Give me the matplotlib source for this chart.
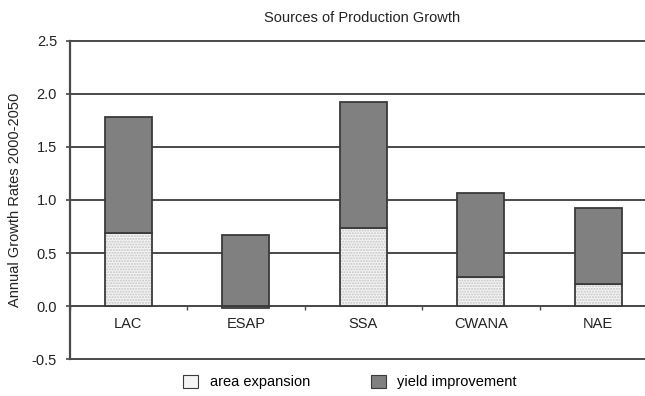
import matplotlib
matplotlib.use("Agg")
import matplotlib.pyplot as plt
from matplotlib.patches import Patch
import numpy as np

# ========== Data ==========
regions = ["LAC", "ESAP", "SSA", "CWANA", "NAE"]
area_expansion = [0.69, -0.02, 0.74, 0.27, 0.21]
yield_improvement = [1.09, 0.67, 1.18, 0.80, 0.71]
y_ticks = [-0.5, 0.0, 0.5, 1.0, 1.5, 2.0, 2.5]

plt.rcParams["font.family"] = ["Liberation Sans", "DejaVu Sans"]

dark = "#808080"
edge = "#3a3a3a"
grid = "#4a4a4a"
text_col = "#222222"
light_fill = "#f4f4f4"
stipple = "#c4c4c4"

fig = plt.figure(figsize=(6.45, 3.96), dpi=100)
ax = fig.add_axes([0.1078, 0.0934, 0.9109, 0.8031])

x = np.arange(len(regions))
w = 0.4

# yield stacks on top of positive area, negatives go down from zero
area = np.array(area_expansion)
base = np.where(area > 0, area, 0)

# area expansion: stippled fill first, then the outline
ax.bar(x, area, w, color=light_fill, edgecolor=stipple, hatch="......",
       linewidth=0, zorder=3)
ax.bar(x, area, w, fill=False, edgecolor=edge, linewidth=1.3, zorder=4)
ax.bar(x, yield_improvement, w, bottom=base, color=dark, edgecolor=edge,
       linewidth=1.3, zorder=4)

ax.set_xlim(-0.5, len(regions) - 0.5)
ax.set_ylim(-0.5, 2.5)
ax.set_yticks(y_ticks)
ax.set_yticklabels([f"{v:.1f}" for v in y_ticks], fontsize=10.5, color=text_col)

# horizontal gridlines incl. the top and bottom ones
for v in y_ticks:
    ax.axhline(v, color=grid, linewidth=1.4, zorder=1, clip_on=False)

# category axis sits on the zero line, ticks between categories
ax.spines["bottom"].set_position(("data", 0))
ax.spines["bottom"].set_color(grid)
ax.spines["bottom"].set_linewidth(1.4)
ax.set_xticks(np.arange(len(regions) + 1) - 0.5)
ax.set_xticklabels([])
ax.set_xticks(x, minor=True)
ax.set_xticklabels(regions, minor=True, fontsize=10.5, color=text_col)
ax.tick_params(axis="x", which="major", length=3, width=1, color=grid, direction="out")
ax.tick_params(axis="x", which="minor", length=0, pad=8)
ax.tick_params(axis="y", length=3, width=1.2, color=grid, pad=6)

ax.spines["left"].set_color(grid)
ax.spines["left"].set_linewidth(1.6)
ax.spines["top"].set_visible(False)
ax.spines["right"].set_visible(False)

ax.set_ylabel("Annual Growth Rates 2000-2050", fontsize=10.5, color=text_col, labelpad=7)
fig.text(0.561, 0.955, "Sources of Production Growth", ha="center", va="center",
         fontsize=10.5, color=text_col)

handles = [
    Patch(facecolor=light_fill, edgecolor=edge, linewidth=0.8, label="area expansion"),
    Patch(facecolor=dark, edgecolor=edge, linewidth=0.8, label="yield improvement"),
]
fig.legend(handles=handles, loc="center", bbox_to_anchor=(0.543, 0.035), ncol=2,
           frameon=False, fontsize=10.5, handlelength=1.0, handleheight=1.0,
           columnspacing=4.2, handletextpad=0.8)

fig.savefig("out.png", dpi=100)
